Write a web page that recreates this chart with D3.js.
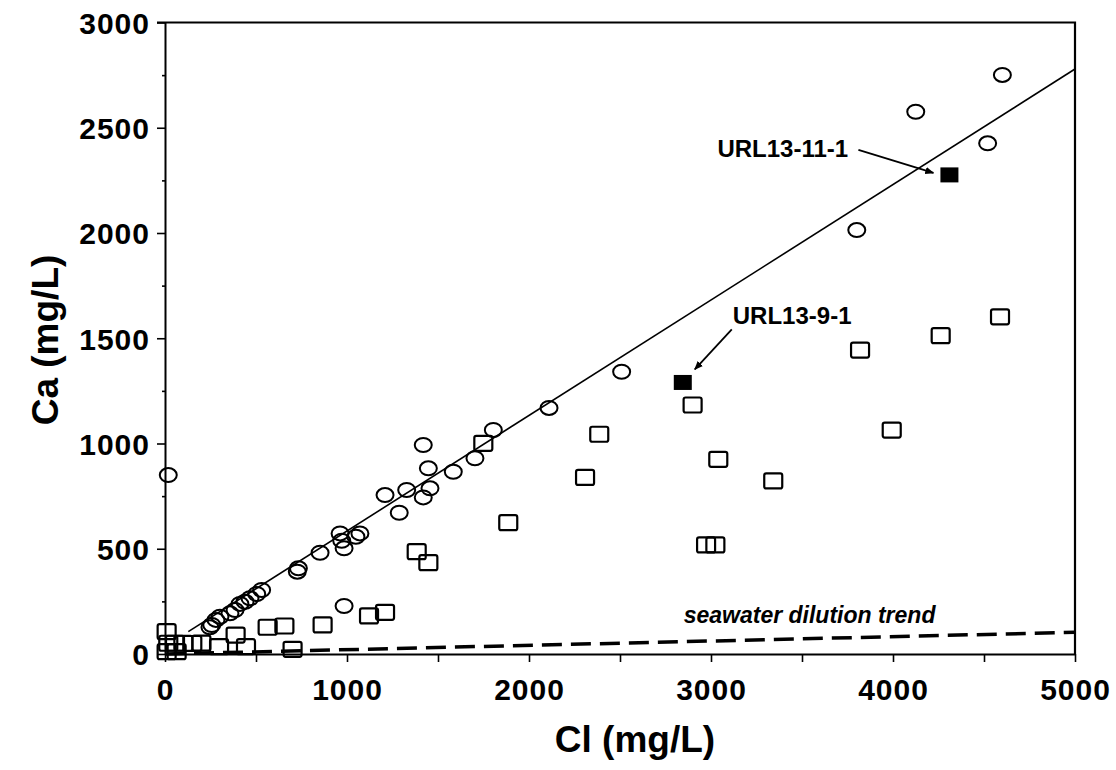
<!DOCTYPE html>
<html>
<head>
<meta charset="utf-8">
<script src="https://cdn.jsdelivr.net/npm/d3@7"></script>
<style>
  body { margin: 0; background: #fff; }
  svg { display: block; font-family: "Liberation Sans", Arial, sans-serif; }
</style>
</head>
<body>
<svg width="1116" height="770"></svg>
<script>
// open circles (Cl, Ca in mg/L)
var circleCl = [18, 1804, 1419, 1447, 1703, 1584, 1456, 1419, 1328, 1209, 1287, 1071, 962, 971, 984, 1049,
  852, 733, 727, 531, 504, 467, 440, 412, 385, 357, 302, 280, 257, 247, 984, 2110, 2509, 3801, 4125, 4520, 4601];
var circleCa = [850, 1064, 993, 882, 930, 866, 787, 744, 779, 755, 671, 573, 573, 538, 502, 557,
  481, 407, 391, 304, 285, 265, 248, 238, 209, 193, 177, 162, 138, 127, 228, 1169, 1341, 2014, 2576, 2426, 2751];

// open squares
var squareCl = [1749, 1886, 1383, 1447, 1209, 1121, 866, 656, 564, 388, 297, 445, 701, 200, 150, 101, 55, 18, 9, 9, 64,
  2386, 2308, 2899, 3040, 3342, 2973, 3024, 3993, 3819, 4262, 4588];
var squareCa = [1001, 624, 486, 434, 198, 181, 138, 133, 127, 90, 35, 35, 22, 52, 50, 51, 51, 51, 106, 11, 11,
  1044, 839, 1183, 925, 822, 518, 518, 1064, 1444, 1512, 1602];

// labelled wells (filled squares)
var wellNames = ["URL13-9-1", "URL13-11-1"];
var wellCl = [2845, 4310];
var wellCa = [1290, 2276];

// trend lines
var fitCl = [128, 5000], fitCa = [106, 2779];
var seaCl = [0, 5000], seaCa = [0, 103];

var xTicks = d3.range(0, 5001, 500);
var yTicks = d3.range(0, 3001, 500);
var yMinor = d3.range(250, 3000, 500);

var svg = d3.select("svg");

var x = d3.scaleLinear().domain([0, 5000]).range([165, 1075]);
var y = d3.scaleLinear().domain([0, 3000]).range([654, 22.5]);

// frame (top and right)
svg.append("path")
  .attr("d", "M" + (x(0) - 8) + "," + y(3000) + "H" + x(5000) + "V" + y(0))
  .attr("fill", "none").attr("stroke", "#000").attr("stroke-width", 2.2);

// axes
var xAxis = svg.append("g")
  .attr("transform", "translate(0," + y(0) + ")")
  .call(d3.axisBottom(x).tickValues(xTicks).tickSize(8).tickSizeOuter(0)
    .tickFormat(function (d) { return d % 1000 === 0 ? d : ""; }));

var yAxis = svg.append("g")
  .attr("transform", "translate(" + x(0) + ",0)")
  .call(d3.axisLeft(y).tickValues(yTicks).tickSize(8).tickSizeOuter(0).tickPadding(7)
    .tickFormat(d3.format("d")));

svg.append("g")
  .attr("transform", "translate(" + x(0) + ",0)")
  .call(d3.axisLeft(y).tickValues(yMinor).tickSize(3).tickFormat(""))
  .select(".domain").remove();

svg.selectAll(".domain").attr("stroke-width", 2);
svg.selectAll(".tick line").attr("stroke-width", 1.6);

xAxis.selectAll("text")
  .attr("font-size", 30).attr("font-weight", "bold").attr("fill", "#000")
  .attr("letter-spacing", 1)
  .attr("dy", "1.15em");
yAxis.selectAll("text")
  .attr("font-size", 30).attr("font-weight", "bold").attr("fill", "#000")
  .attr("letter-spacing", 1)
  .attr("dy", "0.36em");

// axis titles
svg.append("text")
  .attr("x", 635).attr("y", 752)
  .attr("text-anchor", "middle")
  .attr("font-size", 37).attr("font-weight", "bold")
  .text("Cl (mg/L)");

svg.append("text")
  .attr("transform", "translate(58,340) rotate(-90)")
  .attr("text-anchor", "middle")
  .attr("font-size", 37).attr("font-weight", "bold")
  .text("Ca (mg/L)");

// regression line
var line = d3.line().x(function (d) { return x(d[0]); }).y(function (d) { return y(d[1]); });

svg.append("path")
  .datum(d3.zip(fitCl, fitCa))
  .attr("d", line)
  .attr("fill", "none").attr("stroke", "#000").attr("stroke-width", 1.6);

// seawater dilution line
svg.append("path")
  .datum(d3.zip(seaCl, seaCa))
  .attr("d", line)
  .attr("fill", "none").attr("stroke", "#000").attr("stroke-width", 3.5)
  .attr("stroke-dasharray", "20,9");

svg.append("text")
  .attr("x", x(2850)).attr("y", 623)
  .attr("font-size", 23).attr("font-weight", "bold").attr("font-style", "italic")
  .text("seawater dilution trend");

// open squares
svg.append("g").selectAll("rect")
  .data(d3.zip(squareCl, squareCa))
  .enter().append("rect")
  .attr("x", function (d) { return x(d[0]) - 9; })
  .attr("y", function (d) { return y(d[1]) - 7.5; })
  .attr("width", 18).attr("height", 15).attr("rx", 2)
  .attr("fill", "none").attr("stroke", "#000").attr("stroke-width", 2.2);

// open circles
svg.append("g").selectAll("ellipse")
  .data(d3.zip(circleCl, circleCa))
  .enter().append("ellipse")
  .attr("cx", function (d) { return x(d[0]); })
  .attr("cy", function (d) { return y(d[1]); })
  .attr("rx", 8.5).attr("ry", 7)
  .attr("fill", "none").attr("stroke", "#000").attr("stroke-width", 2);

// filled squares
svg.append("g").selectAll("rect")
  .data(d3.zip(wellCl, wellCa))
  .enter().append("rect")
  .attr("x", function (d) { return x(d[0]) - 9; })
  .attr("y", function (d) { return y(d[1]) - 7.5; })
  .attr("width", 18).attr("height", 15)
  .attr("fill", "#000");

// annotations: label offset and arrow from/to relative to the point (pixels)
var notes = [
  { lx: 50, ly: -67, ax: 49, ay: -53, bx: 12, by: -13 },
  { lx: -232, ly: -27, ax: -91, ay: -25, bx: -16, by: -2 }
];

svg.append("defs").append("marker")
  .attr("id", "head")
  .attr("viewBox", "0 0 10 10").attr("refX", 9).attr("refY", 5)
  .attr("markerWidth", 9).attr("markerHeight", 9).attr("markerUnits", "userSpaceOnUse")
  .attr("orient", "auto")
  .append("path").attr("d", "M0,1L10,5L0,9Z").attr("fill", "#000");

wellNames.forEach(function (name, i) {
  var px = x(wellCl[i]), py = y(wellCa[i]), n = notes[i];
  svg.append("text")
    .attr("x", px + n.lx).attr("y", py + n.ly)
    .attr("dy", "0.36em")
    .attr("font-size", 24).attr("font-weight", "bold")
    .text(name);
  svg.append("line")
    .attr("x1", px + n.ax).attr("y1", py + n.ay)
    .attr("x2", px + n.bx).attr("y2", py + n.by)
    .attr("stroke", "#000").attr("stroke-width", 1.8)
    .attr("marker-end", "url(#head)");
});
</script>
</body>
</html>
